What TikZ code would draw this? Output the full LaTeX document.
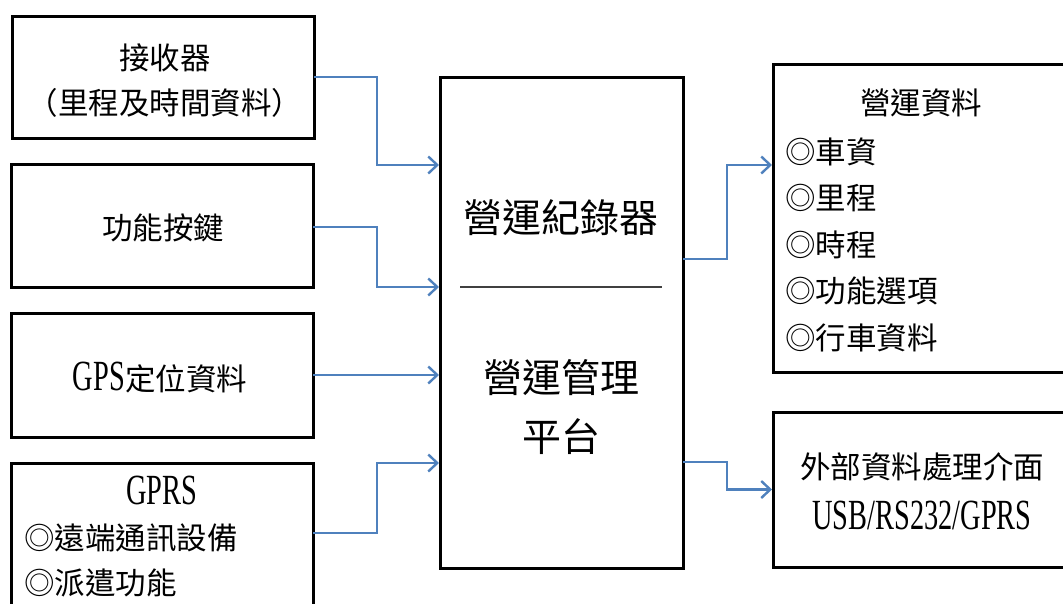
\documentclass[tikz,border=0pt]{standalone}
\usepackage{fontspec}
\newfontfamily\cjk{Noto Sans CJK TC}
\newfontfamily\lat[FakeStretch=0.66]{Liberation Serif}
\usetikzlibrary{arrows.meta}
\definecolor{arrblue}{RGB}{79,129,189}
\definecolor{divgray}{RGB}{64,64,64}
\newcommand\LT[1]{{\lat\fontsize{43pt}{46pt}\selectfont #1}}
\tikzset{
  box/.style={draw=black,line width=3pt,inner sep=0pt,outer sep=0pt},
  arr/.style={draw=arrblue,line width=2.4pt,shorten >=1pt,-{Straight Barb[length=9pt,width=17pt]}},
  txt/.style={inner sep=0pt,font=\cjk\fontsize{30.5pt}{36pt}\selectfont},
  big/.style={inner sep=0pt,font=\cjk\fontsize{39pt}{46pt}\selectfont},
}
\begin{document}
\begin{tikzpicture}[x=1pt,y=-1pt]
\clip (0,0) rectangle (1063,603);
\fill[white] (0,0) rectangle (1063,603);
% boxes
\node[box,minimum width=302pt,minimum height=122pt] (b1) at (163,77) {};
\node[box,minimum width=302pt,minimum height=123pt] (b2) at (162,225.5) {};
\node[box,minimum width=302pt,minimum height=124pt] (b3) at (162,375) {};
\node[box,minimum width=302pt,minimum height=187pt] (b4) at (162,556.5) {};
\node[box,minimum width=243pt,minimum height=491pt] (c) at (561.5,322.5) {};
\node[box,minimum width=307pt,minimum height=308pt] (r1) at (926.5,218) {};
\node[box,minimum width=307pt,minimum height=155pt] (r2) at (926.5,489.5) {};
% texts
\node[txt] (t1a) at (165,58) {接收器};
\node[txt] (t1b) at (165,103) {（里程及時間資料）};
\node[txt] (t2) at (163,228) {功能按鍵};
\node[txt] (t3) at (160,378) {\LT{GPS}定位資料};
\node[txt] (t4a) at (162,490) {\LT{GPRS}};
\node[txt,anchor=west] (t4b) at (24,538) {◎遠端通訊設備};
\node[txt,anchor=west] (t4c) at (24,583) {◎派遣功能};
\node[big] (tc1) at (561,218) {營運紀錄器};
\node[big] (tc2) at (561,378) {營運管理};
\node[big] (tc3) at (561,437) {平台};
\node[txt] (tr0) at (921,103) {營運資料};
\node[txt,anchor=west] (tr1) at (785,152) {◎車資};
\node[txt,anchor=west] (tr2) at (785,198) {◎里程};
\node[txt,anchor=west] (tr3) at (785,245) {◎時程};
\node[txt,anchor=west] (tr4) at (785,291) {◎功能選項};
\node[txt,anchor=west] (tr5) at (785,338) {◎行車資料};
\node[txt] (ts1) at (922,467) {外部資料處理介面};
\node[txt] (ts2) at (922,515) {\LT{USB/RS232/GPRS}};
% divider
\draw[divgray,line width=2pt] (460,287) -- (662,287);
% connectors
\draw[arr] (b1.east) -- ++(63,0) |- ([yshift=157.5pt]c.west);
\draw[arr] ([yshift=-1.5pt]b2.east) -- ++(64,0) |- ([yshift=35.5pt]c.west);
\draw[arr] (b3.east) -- (b3.east -| c.west);
\draw[arr] ([yshift=23.5pt]b4.east) -- ++(64,0) |- ([yshift=-140.5pt]c.west);
\draw[arr] ([yshift=63.5pt]c.east) -- ++(44,0) |- ([yshift=53pt]r1.west);
\draw[arr] ([yshift=-139.5pt]c.east) -- ++(44,0) |- (r2.west);
\end{tikzpicture}
\end{document}
